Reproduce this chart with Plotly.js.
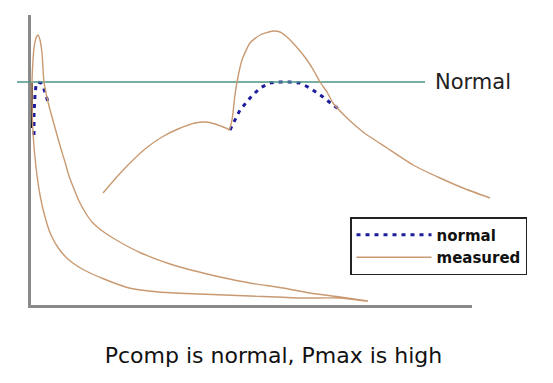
<!DOCTYPE html>
<html>
<head>
<meta charset="utf-8">
<script src="https://cdn.plot.ly/plotly-3.0.1.min.js"></script>
<style>html,body{margin:0;padding:0;background:#fff;}#chart{width:553px;height:383px;}</style>
</head>
<body>
<div id="chart"></div>
<script>
// Reference (Normal) pressure level
var normalLevelX = [-12, 396];
var normalLevelY = [225, 225];

// Diagram 1: Pcomp normal cycle (measured)
var meas1X = [336, 311, 271, 221, 170, 130, 100, 75, 55, 40, 30, 22, 16, 11, 7, 4, 3, 3, 4, 5, 7, 9, 11, 13, 15, 19, 25.5, 32, 36, 40, 45, 50, 56, 63, 72, 89, 112, 141, 174, 191, 221, 254, 281, 311, 339];
var meas1Y = [6, 9, 9, 11, 13, 15, 19, 28, 37, 47, 58, 72, 90, 112, 140, 174, 207, 225, 247, 259, 269, 272, 267, 254, 225, 205, 181, 158, 145, 131, 118, 106, 95, 85, 77, 66, 54, 43, 34, 30, 24, 19, 14, 10, 6];
// Diagram 1: normal curve near TDC
var norm1X = [5, 5, 6, 7, 9, 12, 14, 16, 19];
var norm1Y = [172, 192, 212, 222, 225, 224, 221, 215, 205];
// TDC marker segment
var tdcX = [3, 3];
var tdcY = [224, 179];

// Diagram 2: Pmax high (measured)
var meas2X = [74, 86, 99, 116, 133, 149, 166, 176, 186, 199, 200, 203, 206, 208, 213, 221, 231, 244, 251, 258, 264, 271, 278, 285, 291, 298, 304, 318, 334, 358, 384, 411, 434, 461];
var meas2Y = [114, 128, 142, 158, 170, 178, 184, 185, 183, 178, 177, 187, 212, 225, 247, 264, 272, 276, 275, 270, 264, 256, 247, 236, 225, 215, 204, 189, 175, 159, 142, 129, 119, 109];
// Diagram 2: normal curve
var norm2X = [201, 206, 211, 221, 231, 241, 251, 261, 271, 281, 294, 304, 311];
var norm2Y = [177, 187, 197, 209, 219, 224, 225, 225, 224, 219, 210, 202, 197];

var seriesNames = ["normal", "measured"];
var levelLabel = "Normal";
var chartTitle = "Pcomp is normal, Pmax is high";

var measColor = "#c99a72";
var normColor = "#1c1c9c";
var dotDash = "4px,5px";

var traces = [
  {x: tdcX, y: tdcY, xaxis: "x", yaxis: "y", mode: "lines", line: {color: "#111", width: 2}, showlegend: false, hoverinfo: "skip"},
  {x: norm1X, y: norm1Y, xaxis: "x2", yaxis: "y2", mode: "lines", name: seriesNames[0], legendgroup: "n", legendrank: 1,
   line: {color: normColor, width: 3, dash: dotDash}, showlegend: true},
  {x: norm2X, y: norm2Y, xaxis: "x2", yaxis: "y2", mode: "lines", name: seriesNames[0], legendgroup: "n",
   line: {color: normColor, width: 3, dash: dotDash}, showlegend: false},
  {x: normalLevelX, y: normalLevelY, xaxis: "x2", yaxis: "y2", mode: "lines", line: {color: "#4b9585", width: 1.3}, showlegend: false},
  {x: meas1X, y: meas1Y, xaxis: "x2", yaxis: "y2", mode: "lines", name: seriesNames[1], legendgroup: "m", legendrank: 2,
   line: {color: measColor, width: 1.4, shape: "spline", smoothing: 0.6}, showlegend: true},
  {x: meas2X, y: meas2Y, xaxis: "x2", yaxis: "y2", mode: "lines", name: seriesNames[1], legendgroup: "m",
   line: {color: measColor, width: 1.4, shape: "spline", smoothing: 0.6}, showlegend: false}
];

var hidden = {showgrid: false, zeroline: false, showticklabels: false, ticks: "", showline: false, fixedrange: true};

var layout = {
  width: 553, height: 383, autosize: false,
  margin: {l: 0, r: 0, t: 0, b: 0, pad: 0},
  paper_bgcolor: "#ffffff", plot_bgcolor: "rgba(0,0,0,0)",
  font: {family: "DejaVu Sans, Verdana, sans-serif", color: "#111"},
  xaxis: {domain: [30.5/553, 472/553], range: [1.5, 443], anchor: "y", showline: true, linecolor: "#8a8a8a", linewidth: 3,
          showgrid: false, zeroline: false, showticklabels: false, ticks: "", fixedrange: true, mirror: false},
  yaxis: {domain: [(383-304.5)/383, (383-15)/383], range: [2.5, 292], anchor: "x", showline: true, linecolor: "#8a8a8a", linewidth: 3,
          showgrid: false, zeroline: false, showticklabels: false, ticks: "", fixedrange: true, mirror: false},
  xaxis2: Object.assign({domain: [0, 1], range: [-29, 524], anchor: "y2"}, hidden),
  yaxis2: Object.assign({domain: [0, 1], range: [-76, 307], anchor: "x2"}, hidden),
  title: {text: chartTitle, x: 273.5/553, xanchor: "center", y: (383-355)/383, yanchor: "middle",
          font: {family: "DejaVu Sans, Verdana, sans-serif", size: 22, color: "#111"}},
  showlegend: true,
  legend: {x: 350/553, xanchor: "left", y: (383-217)/383, yanchor: "top", bgcolor: "#fff",
           bordercolor: "#222", borderwidth: 1.5, font: {family: "DejaVu Sans, Verdana, sans-serif", size: 15, color: "#111", weight: "bold"},
           traceorder: "normal", itemwidth: 75, tracegroupgap: 0},
  annotations: [
    {text: levelLabel, xref: "x2", yref: "y2", x: 404, y: 225, xanchor: "left", yanchor: "middle", showarrow: false,
     font: {family: "DejaVu Sans, Verdana, sans-serif", size: 21, color: "#222"}}
  ]
};

Plotly.newPlot("chart", traces, layout, {displayModeBar: false, staticPlot: true});
</script>
</body>
</html>
